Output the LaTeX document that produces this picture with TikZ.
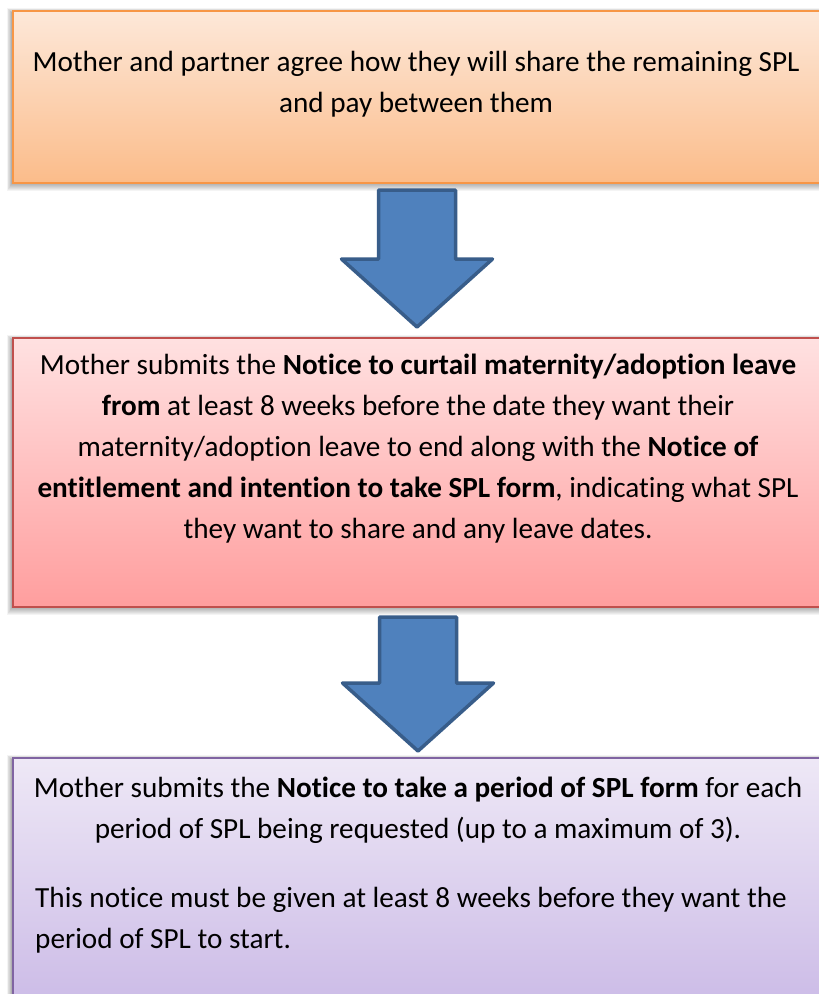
\documentclass[tikz,border=0pt]{standalone}
\usepackage{fontspec}
\setmainfont{Carlito}[Ligatures=CommonOff]
\definecolor{orBorder}{RGB}{247,150,70}
\definecolor{orTop}{RGB}{253,232,217}
\definecolor{orBot}{RGB}{251,188,138}
\definecolor{rdBorder}{RGB}{192,80,77}
\definecolor{rdTop}{RGB}{255,225,225}
\definecolor{rdBot}{RGB}{255,158,158}
\definecolor{puBorder}{RGB}{128,100,162}
\definecolor{puTop}{RGB}{238,232,246}
\definecolor{puBot}{RGB}{202,185,230}
\definecolor{arFill}{RGB}{79,129,189}
\definecolor{arDraw}{RGB}{56,93,138}
\newcommand\myshadow[4]{%
  \foreach \r in {0,...,8}{%
    \fill[black,opacity=0.045] (#1-\r*0.6,#2-\r*0.6+3) rectangle (#3+\r,#4+\r+1);
  }%
}
\begin{document}
\begin{tikzpicture}[x=1pt,y=-1pt,
  boxbase/.style={anchor=north west,line width=2pt,inner sep=0pt},
  orbox/.style={boxbase,draw=orBorder,top color=orTop,bottom color=orBot},
  rdbox/.style={boxbase,draw=rdBorder,top color=rdTop,bottom color=rdBot},
  pubox/.style={boxbase,draw=puBorder,top color=puTop,bottom color=puBot},
  txt/.style={font=\fontsize{29.2}{40.8}\selectfont,inner sep=0pt,text=black},
  blockarrow/.style={fill=arFill,draw=arDraw,line width=3.5pt,line join=round}
]
\useasboundingbox (0,0) rectangle (819,994);
\clip (0,0) rectangle (819,994);
\fill[white] (0,0) rectangle (819,994);

% box 1
\myshadow{12}{10}{824}{182}
\node[orbox,minimum width=812pt,minimum height=172pt] (b1) at (12,10) {};
\node[txt,align=center,anchor=base] (t1) at (416,112)
  {Mother and partner agree how they will share the remaining SPL\\and pay between them};

% arrow 1
\coordinate (a1) at (417,190);
\draw[blockarrow] ([xshift=-38.5pt]a1) -- ([xshift=38.5pt]a1) -- ([xshift=38.5pt,yshift=-69pt]a1)
  -- ([xshift=75.5pt,yshift=-69pt]a1) -- ([yshift=-137pt]a1) -- ([xshift=-75.5pt,yshift=-69pt]a1)
  -- ([xshift=-38.5pt,yshift=-69pt]a1) -- cycle;

% box 2
\myshadow{12}{337}{824}{606}
\node[rdbox,minimum width=812pt,minimum height=269pt] (b2) at (12,337) {};
\node[txt,align=center,anchor=base] (t2) at (418,538)
  {Mother submits the \textbf{Notice to curtail maternity/adoption leave}\\
   \textbf{from} at least 8 weeks before the date they want their\\
   maternity/adoption leave to end along with the \textbf{Notice of}\\
   \textbf{entitlement and intention to take SPL form}, indicating what SPL\\
   they want to share and any leave dates.};

% arrow 2
\coordinate (a2) at (418,617);
\draw[blockarrow] ([xshift=-38.5pt]a2) -- ([xshift=38.5pt]a2) -- ([xshift=38.5pt,yshift=-66pt]a2)
  -- ([xshift=75.5pt,yshift=-66pt]a2) -- ([yshift=-134pt]a2) -- ([xshift=-75.5pt,yshift=-66pt]a2)
  -- ([xshift=-38.5pt,yshift=-66pt]a2) -- cycle;

% box 3
\myshadow{12}{757}{824}{1010}
\node[pubox,minimum width=812pt,minimum height=260pt] (b3) at (12,757) {};
\node[txt,align=center,anchor=base] (t3) at (418,838)
  {Mother submits the \textbf{Notice to take a period of SPL form} for each\\
   period of SPL being requested (up to a maximum of 3).};
\node[txt,align=left,anchor=base west] (t4) at (35,948)
  {This notice must be given at least 8 weeks before they want the\\
   period of SPL to start.};
\end{tikzpicture}
\end{document}
